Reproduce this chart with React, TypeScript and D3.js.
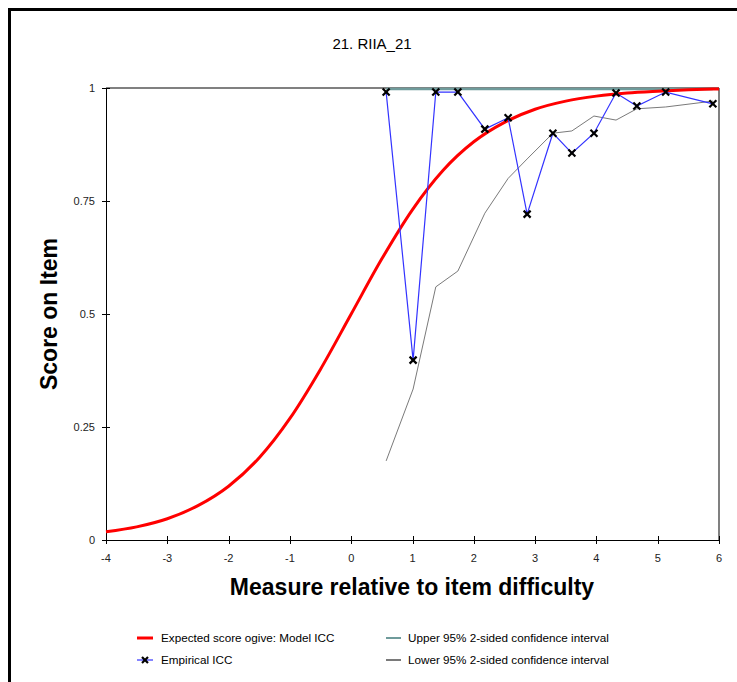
import React from "react";
import * as d3 from "d3";

const modelX = [-4, -3.5, -3, -2.5, -2, -1.5, -1, -0.5, 0, 0.5, 1, 1.5, 2, 2.5, 3, 3.5, 4, 4.5, 5, 5.5, 6];
const modelY = [0.018, 0.029, 0.047, 0.076, 0.119, 0.182, 0.269, 0.378, 0.5, 0.622, 0.731, 0.818, 0.881, 0.924, 0.953, 0.971, 0.982, 0.989, 0.993, 0.996, 0.998];

const empX = [0.57, 1.01, 1.38, 1.74, 2.18, 2.56, 2.87, 3.29, 3.6, 3.96, 4.32, 4.66, 5.13, 5.9];
const empY = [0.991, 0.398, 0.991, 0.991, 0.909, 0.934, 0.721, 0.9, 0.856, 0.9, 0.989, 0.96, 0.991, 0.965];
const upperY = [0.998, 0.998, 0.998, 0.998, 0.998, 0.998, 0.998, 0.998, 0.998, 0.998, 0.998, 0.998, 0.998, 0.998];
const lowerY = [0.175, 0.334, 0.56, 0.595, 0.723, 0.8, 0.843, 0.9, 0.905, 0.938, 0.929, 0.954, 0.958, 0.971];

const xTicks = [-4, -3, -2, -1, 0, 1, 2, 3, 4, 5, 6];
const yTicks = [0, 0.25, 0.5, 0.75, 1];

const FONT = "'Liberation Sans', Arial, sans-serif";

export default function App() {
  const W = 737, H = 682;
  const left = 106, right = 719, top = 88, bottom = 540;
  const x = d3.scaleLinear().domain([-4, 6]).range([left, right]);
  const y = d3.scaleLinear().domain([0, 1]).range([bottom, top]);

  const modelPts: [number, number][] = modelX.map((v, i) => [v, modelY[i]]);
  const empPts: [number, number][] = empX.map((v, i) => [v, empY[i]]);
  const upPts: [number, number][] = empX.map((v, i) => [v, upperY[i]]);
  const loPts: [number, number][] = empX.map((v, i) => [v, lowerY[i]]);

  const smooth = d3.line<[number, number]>().x(d => x(d[0])).y(d => y(d[1])).curve(d3.curveMonotoneX);
  const straight = d3.line<[number, number]>().x(d => x(d[0])).y(d => y(d[1]));

  const cross = (cx: number, cy: number, k: string | number, s = 3.5) => (
    <g key={k} stroke="#000" strokeWidth={2.2}>
      <line x1={cx - s} y1={cy - s} x2={cx + s} y2={cy + s} />
      <line x1={cx - s} y1={cy + s} x2={cx + s} y2={cy - s} />
    </g>
  );

  return (
    <svg width={W} height={H} style={{ position: "absolute", left: 0, top: 0, background: "#fff" }} fontFamily={FONT}>
      <rect x={0} y={0} width={W} height={H} fill="#fff" />
      {/* outer frame */}
      <rect x={9.5} y={9.5} width={W + 20} height={H + 20} fill="none" stroke="#000" strokeWidth={3} />
      <text x={372} y={49} textAnchor="middle" fontSize={15} fill="#000">21. RIIA_21</text>

      {/* plot border */}
      <line x1={left} y1={top} x2={right} y2={top} stroke="#808080" strokeWidth={2} />
      <line x1={right} y1={top} x2={right} y2={bottom} stroke="#808080" strokeWidth={2} />
      <line x1={left + 0.5} y1={top} x2={left + 0.5} y2={bottom} stroke="#000" strokeWidth={1} />
      <line x1={left} y1={bottom + 0.5} x2={right + 1} y2={bottom + 0.5} stroke="#000" strokeWidth={1} />

      {yTicks.map(t => (
        <g key={"y" + t}>
          <line x1={left - 4} x2={left + 4} y1={Math.round(y(t)) + 0.5} y2={Math.round(y(t)) + 0.5} stroke="#000" />
          <text x={left - 11} y={y(t) + 4} textAnchor="end" fontSize={11} fill="#222">{t}</text>
        </g>
      ))}
      {xTicks.map(t => (
        <g key={"x" + t}>
          <line x1={Math.round(x(t)) + 0.5} x2={Math.round(x(t)) + 0.5} y1={bottom - 4} y2={bottom + 4} stroke="#000" />
          <text x={x(t)} y={bottom + 22} textAnchor="middle" fontSize={11} fill="#222">{t}</text>
        </g>
      ))}

      <text x={412} y={595} textAnchor="middle" fontSize={23} fontWeight="bold" fill="#000">Measure relative to item difficulty</text>
      <text transform={`translate(57,${(top + bottom) / 2}) rotate(-90)`} textAnchor="middle" fontSize={23} fontWeight="bold" fill="#000">Score on Item</text>

      {/* series */}
      <path d={straight(upPts) || ""} fill="none" stroke="#6f9b9b" strokeWidth={2.5} />
      <path d={smooth(modelPts) || ""} fill="none" stroke="#ff0000" strokeWidth={3} />
      <path d={straight(loPts) || ""} fill="none" stroke="#7a7a7a" strokeWidth={1} />
      <path d={straight(empPts) || ""} fill="none" stroke="#3333ff" strokeWidth={1.2} />
      {empPts.map((p, i) => cross(x(p[0]), y(p[1]), i))}

      {/* legend */}
      <line x1={137} x2={153} y1={638} y2={638} stroke="#ff0000" strokeWidth={3} />
      <text x={161} y={642} fontSize={11.7} fill="#000">Expected score ogive: Model ICC</text>
      <line x1={137} x2={153} y1={660} y2={660} stroke="#3333ff" strokeWidth={1.2} />
      {cross(145, 660, "leg", 3)}
      <text x={161} y={664} fontSize={11.7} fill="#000">Empirical ICC</text>
      <line x1={386} x2={401} y1={638} y2={638} stroke="#6f9b9b" strokeWidth={2} />
      <text x={408} y={642} fontSize={11.7} fill="#000">Upper 95% 2-sided confidence interval</text>
      <line x1={386} x2={401} y1={660} y2={660} stroke="#7a7a7a" strokeWidth={2} />
      <text x={408} y={664} fontSize={11.7} fill="#000">Lower 95% 2-sided confidence interval</text>
    </svg>
  );
}
